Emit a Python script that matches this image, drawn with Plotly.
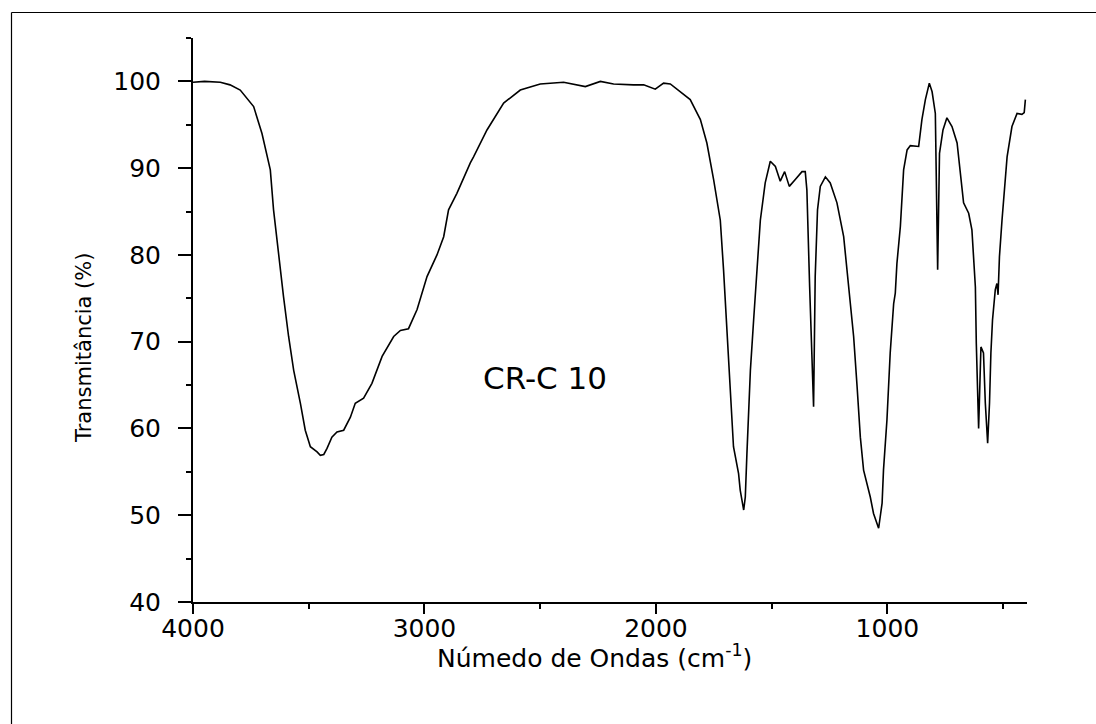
import plotly.graph_objects as go

# Wavenumber (cm^-1) and transmittance (%)
wavenumber = [4000, 3950, 3882, 3840, 3796, 3738, 3702, 3666, 3652, 3630, 3609, 3587, 3565, 3536,
              3515, 3493, 3464, 3450, 3435, 3421, 3400, 3378, 3349, 3320, 3299, 3263, 3227, 3183,
              3133, 3104, 3069, 3032, 2989, 2946, 2917, 2896, 2860, 2802, 2788, 2730, 2658, 2586,
              2500, 2399, 2356, 2305, 2240, 2183, 2097, 2053, 2003, 1967, 1938, 1895, 1852, 1808,
              1780, 1751, 1722, 1708, 1696, 1682, 1672, 1665, 1643, 1636, 1621, 1614, 1607, 1592,
              1578, 1563, 1549, 1528, 1506, 1484, 1463, 1444, 1424, 1398, 1369, 1355, 1348, 1336,
              1326, 1319, 1312, 1302, 1290, 1268, 1247, 1218, 1189, 1168, 1146, 1131, 1117, 1103,
              1081, 1074, 1060, 1038, 1023, 1017, 1002, 988, 973, 966, 959, 944, 930, 915, 901,
              865, 851, 836, 819, 807, 793, 783, 775, 760, 743, 721, 699, 685, 671, 649, 635, 620,
              616, 606, 596, 585, 577, 567, 559, 553, 546, 534, 527, 522, 516, 505, 491, 483, 462,
              440, 419, 409, 404]
transmittance = [99.9, 100.0, 99.9, 99.6, 99.0, 97.1, 94.0, 89.8, 85.2, 79.8, 75.2, 70.6, 66.7, 62.9,
                 59.8, 57.9, 57.3, 56.9, 57.0, 57.7, 59.0, 59.6, 59.8, 61.3, 62.9, 63.5, 65.2, 68.3,
                 70.6, 71.3, 71.5, 73.7, 77.5, 80.0, 82.1, 85.2, 87.1, 90.6, 91.3, 94.4, 97.5, 99.0,
                 99.7, 99.9, 99.7, 99.4, 100.0, 99.7, 99.6, 99.6, 99.1, 99.8, 99.7, 98.8, 97.9, 95.6,
                 92.9, 88.7, 84.0, 78.3, 72.2, 66.7, 61.0, 57.9, 54.8, 52.9, 50.6, 52.1, 57.1, 66.7,
                 72.5, 78.3, 84.0, 88.3, 90.8, 90.2, 88.5, 89.6, 87.9, 88.7, 89.6, 89.6, 87.5, 76.3,
                 67.5, 62.5, 77.5, 85.2, 87.9, 89.0, 88.3, 86.0, 82.1, 76.3, 70.6, 64.8, 59.0, 55.2,
                 52.9, 52.1, 50.2, 48.5, 51.4, 55.2, 61.0, 68.7, 74.4, 75.6, 79.0, 83.3, 89.8, 92.1, 92.6,
                 92.5, 95.6, 97.9, 99.8, 98.8, 96.3, 78.3, 91.7, 94.4, 95.8, 94.8, 92.9, 89.8, 86.0, 84.8, 82.9, 76.3,
                 69.8, 60.0, 69.4, 68.7, 62.9, 58.3, 62.9, 68.7, 72.5, 76.0, 76.7, 75.4, 79.8, 84.0, 88.7, 91.3, 94.8,
                 96.3, 96.2, 96.4, 97.9]

x_ticks = [4000, 3000, 2000, 1000]
y_ticks = [40, 50, 60, 70, 80, 90, 100]
sample_label = "CR-C 10"
x_title = "Númedo de Ondas (cm<sup>-1</sup>)"
y_title = "Transmitância (%)"

FONT = "DejaVu Sans"

fig = go.Figure()
fig.add_trace(go.Scatter(x=wavenumber, y=transmittance, mode="lines",
                         line=dict(color="black", width=1.6), showlegend=False,
                         hoverinfo="skip"))

axis_common = dict(showline=True, linecolor="black", linewidth=2, mirror=False,
                   showgrid=False, zeroline=False, ticks="outside", tickcolor="black",
                   tickwidth=2, tickfont=dict(family=FONT, size=25, color="black"))

fig.update_xaxes(range=[4000, 397], tickvals=x_ticks, ticklen=10,
                 minor=dict(dtick=500, tick0=0, ticks="outside", ticklen=5, tickwidth=2,
                            tickcolor="black", showgrid=False),
                 ticklabelstandoff=-7, **axis_common)
fig.update_yaxes(range=[40, 105], tickvals=y_ticks, ticklen=13,
                 minor=dict(dtick=5, tick0=0, ticks="outside", ticklen=5, tickwidth=2,
                            tickcolor="black", showgrid=False),
                 ticklabelstandoff=12, **axis_common)

fig.add_annotation(x=2478, y=65.8, xref="x", yref="y", text=sample_label, showarrow=False,
                   font=dict(family=FONT, size=31, color="black"))
fig.add_annotation(x=(594 - 193) / 834, y=-(656 - 602) / 564, xref="paper", yref="paper",
                   text=x_title, showarrow=False, xanchor="center", yanchor="middle",
                   font=dict(family=FONT, size=25, color="black"))
fig.add_annotation(x=-(193 - 84) / 834, y=(602 - 348) / 564, xref="paper", yref="paper",
                   text=y_title, textangle=-90, showarrow=False, xanchor="center", yanchor="middle",
                   font=dict(family=FONT, size=21, color="black"))

# outer frame (only left and top edges visible in the reference)
frame_x = -(193 - 11.5) / 834
frame_y = (602 - 12.5) / 564
fig.add_shape(type="line", xref="paper", yref="paper",
              x0=frame_x, x1=1.12, y0=frame_y, y1=frame_y,
              line=dict(color="black", width=1.2), layer="below")
fig.add_shape(type="line", xref="paper", yref="paper",
              x0=frame_x, x1=frame_x, y0=-0.25, y1=frame_y,
              line=dict(color="black", width=1.2), layer="below")

fig.update_layout(width=1096, height=724, paper_bgcolor="white", plot_bgcolor="white",
                  margin=dict(l=193, r=69, t=38, b=122), showlegend=False)

fig.write_html("out.html", config={"displayModeBar": False},
               post_script=("document.body.style.margin='0';"
                            "document.body.style.overflow='hidden';"
                            "document.documentElement.style.overflow='hidden';"))
